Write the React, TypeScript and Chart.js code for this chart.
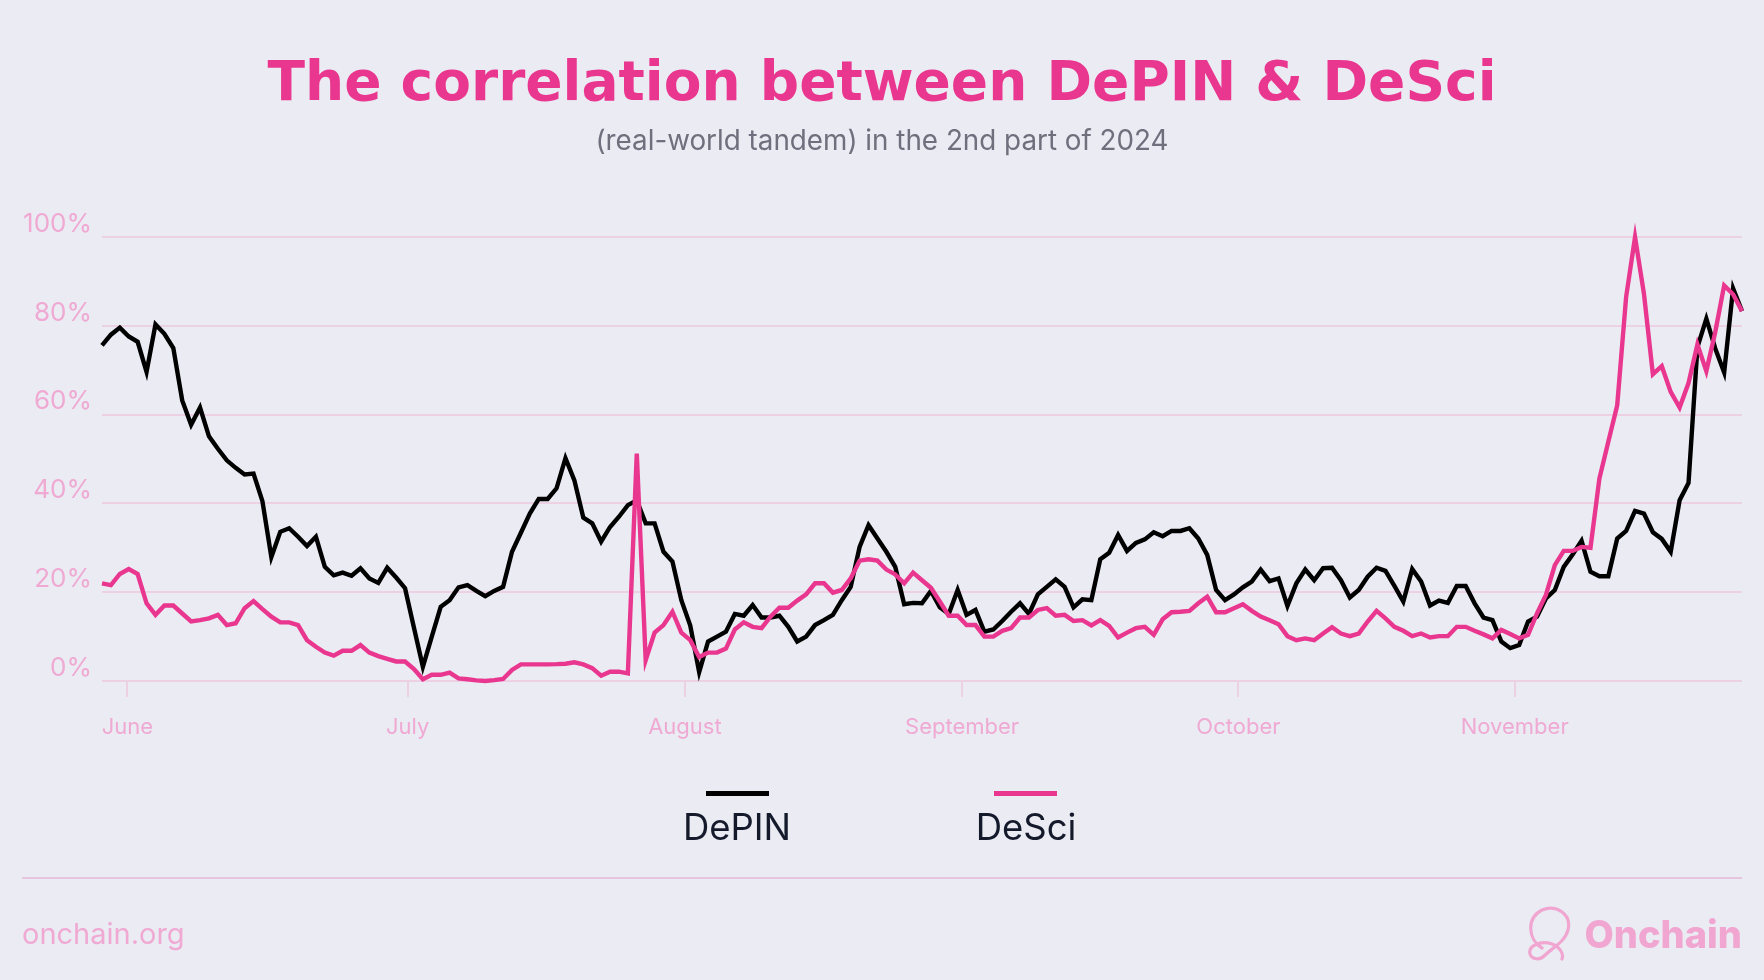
import React, { useEffect, useRef } from 'react';
import { Chart, registerables } from 'chart.js';

Chart.register(...registerables);

// DePIN correlation values (%), daily points from late May to late November 2024
const DEPIN = [
  75.6, 78.0, 79.6, 77.6, 76.4, 69.6, 80.3, 78.2, 75.0, 63.2,
  57.7, 61.6, 55.1, 52.3, 49.7, 48.0, 46.5, 46.7, 40.5, 27.9,
  33.6, 34.4, 32.5, 30.4, 32.5, 25.7, 23.8, 24.4, 23.7, 25.4,
  23.1, 22.1, 25.5, 23.3, 20.9, 12.0, 3.2, 10.0, 16.7, 18.2,
  21.1, 21.6, 20.3, 19.1, 20.3, 21.2, 29.1, 33.4, 37.7, 41.0,
  41.0, 43.4, 50.2, 45.2, 36.8, 35.5, 31.4, 34.7, 37.0, 39.6,
  40.7, 35.5, 35.5, 29.1, 26.9, 18.2, 12.5, 2.0, 8.9, 10.0,
  11.1, 15.1, 14.7, 17.1, 14.3, 14.3, 14.7, 12.2, 8.9, 10.0,
  12.6, 13.7, 14.9, 18.2, 21.2, 30.2, 35.1, 32.1, 29.1, 25.7,
  17.3, 17.6, 17.5, 20.3, 16.6, 15.1, 20.5, 14.9, 16.0, 11.1,
  11.6, 13.5, 15.6, 17.5, 15.1, 19.5, 21.2, 22.9, 21.2, 16.6,
  18.4, 18.2, 27.4, 28.9, 32.9, 29.3, 31.1, 31.9, 33.5, 32.6,
  33.8, 33.8, 34.4, 32.1, 28.4, 20.5, 18.2, 19.5, 21.1, 22.4,
  25.1, 22.5, 23.1, 16.9, 22.0, 25.1, 22.7, 25.4, 25.5, 22.7,
  18.8, 20.5, 23.5, 25.5, 24.8, 21.4, 17.9, 25.2, 22.4, 17.0,
  18.1, 17.6, 21.4, 21.4, 17.5, 14.3, 13.7, 8.9, 7.4, 8.1,
  13.4, 14.5, 18.6, 20.5, 25.7, 28.5, 31.6, 24.6, 23.6, 23.6,
  32.1, 33.8, 38.3, 37.7, 33.5, 32.0, 29.1, 40.7, 44.6, 75.2,
  81.6, 74.9, 69.5, 88.4, 83.3,
];

// DeSci correlation values (%)
const DESCI = [
  22.0, 21.6, 24.1, 25.2, 24.1, 17.5, 14.9, 17.0, 17.0, 15.2,
  13.4, 13.7, 14.1, 14.9, 12.6, 13.0, 16.4, 18.0, 16.2, 14.5,
  13.2, 13.2, 12.6, 9.2, 7.7, 6.4, 5.7, 6.8, 6.8, 8.1,
  6.4, 5.6, 5.0, 4.4, 4.4, 2.7, 0.4, 1.4, 1.4, 1.9,
  0.6, 0.4, 0.15, 0.0, 0.2, 0.45, 2.5, 3.75, 3.75, 3.75,
  3.75, 3.8, 3.9, 4.2, 3.75, 2.9, 1.2, 2.1, 2.1, 1.7,
  51.2, 4.7, 10.9, 12.6, 15.6, 10.9, 9.2, 5.4, 6.4, 6.4,
  7.3, 11.6, 13.2, 12.2, 11.9, 14.5, 16.5, 16.5, 18.1, 19.5,
  22.0, 22.0, 19.9, 20.5, 23.1, 27.1, 27.4, 27.1, 25.1, 24.0,
  22.0, 24.4, 22.7, 21.0, 17.9, 14.7, 14.7, 12.6, 12.6, 10.0,
  10.0, 11.3, 11.9, 14.3, 14.3, 16.0, 16.4, 14.7, 14.9, 13.5,
  13.7, 12.5, 13.7, 12.4, 9.8, 10.9, 11.9, 12.2, 10.4, 13.9,
  15.5, 15.6, 15.8, 17.5, 19.0, 15.5, 15.5, 16.4, 17.3, 15.8,
  14.5, 13.7, 12.8, 10.1, 9.2, 9.6, 9.2, 10.7, 12.1, 10.7,
  10.1, 10.7, 13.4, 15.8, 14.1, 12.2, 11.3, 10.1, 10.7, 9.8,
  10.1, 10.1, 12.2, 12.2, 11.3, 10.5, 9.6, 11.5, 10.6, 9.6,
  10.4, 15.2, 19.4, 26.1, 29.3, 29.3, 30.2, 30.0, 45.6, 53.9,
  62.1, 86.5, 100.0, 87.2, 69.1, 70.9, 65.1, 61.6, 67.1, 75.8,
  69.8, 78.6, 89.1, 87.1, 83.3,
];

// Month tick labels and where they sit along the point index axis
const MONTHS = ['June', 'July', 'August', 'September', 'October', 'November'];
const MONTH_POS = [2.85, 34.3, 65.4, 96.5, 127.5, 158.5];

const Y_MIN = 0;
const Y_MAX = 100;
const Y_STEP = 20;

const BG = '#ebebf3';
const PINK = '#e9368f';
const SOFT_PINK = '#efa9d3';
const GRID = '#ecd0e4';

export default function App() {
  const canvasRef = useRef<HTMLCanvasElement | null>(null);

  useEffect(() => {
    const canvas = canvasRef.current;
    if (!canvas) return;
    const chart = new Chart(canvas, {
      type: 'line',
      data: {
        datasets: [
          {
            label: 'DeSci',
            data: DESCI.map((y, i) => ({ x: i, y })),
            borderColor: PINK,
            backgroundColor: PINK,
            borderWidth: 4.4,
            pointRadius: 0,
            tension: 0,
            order: 0,
            clip: false as any,
          },
          {
            label: 'DePIN',
            data: DEPIN.map((y, i) => ({ x: i, y })),
            borderColor: '#000000',
            backgroundColor: '#000000',
            borderWidth: 4.4,
            pointRadius: 0,
            tension: 0,
            order: 1,
            clip: false as any,
          },
        ],
      },
      options: {
        animation: false,
        responsive: false,
        devicePixelRatio: 1,
        layout: { padding: { top: 237, right: 22, bottom: 0, left: 0 } },
        plugins: {
          legend: { display: false },
          tooltip: { enabled: false },
          title: { display: false },
        },
        scales: {
          x: {
            type: 'linear',
            min: 0,
            max: DEPIN.length - 1,
            afterBuildTicks: (scale: any) => {
              scale.ticks = MONTH_POS.map((v) => ({ value: v }));
            },
            afterFit: (scale: any) => {
              scale.height = 299;
            },
            grid: {
              display: true,
              drawOnChartArea: false,
              drawTicks: true,
              tickLength: 16,
              color: GRID,
              lineWidth: 2,
            },
            border: { display: false },
            ticks: {
              autoSkip: false,
              maxRotation: 0,
              padding: 17,
              color: SOFT_PINK,
              font: { family: 'Inter', size: 22 },
              callback: (value: any) => {
                const i = MONTH_POS.indexOf(Number(value));
                return i >= 0 ? MONTHS[i] : '';
              },
            },
          },
          y: {
            type: 'linear',
            min: Y_MIN,
            max: Y_MAX,
            afterFit: (scale: any) => {
              scale.width = 102;
            },
            grid: {
              color: GRID,
              lineWidth: 2,
              drawTicks: false,
            },
            border: { display: false },
            ticks: {
              stepSize: Y_STEP,
              padding: 10,
              labelOffset: -13,
              color: SOFT_PINK,
              font: { family: 'Inter', size: 26 },
              callback: (value: any) => `${value}%`,
            },
          },
        },
      },
    });
    return () => chart.destroy();
  }, []);

  const abs: React.CSSProperties = { position: 'absolute', lineHeight: 1, whiteSpace: 'nowrap' };

  return (
    <div
      style={{
        position: 'absolute',
        left: 0,
        top: 0,
        width: 1764,
        height: 980,
        background: BG,
        overflow: 'hidden',
        fontFamily: 'Inter, sans-serif',
      }}
    >
      <canvas
        ref={canvasRef}
        width={1764}
        height={980}
        style={{ position: 'absolute', left: 0, top: 0, width: 1764, height: 980 }}
      />
      <div
        style={{
          ...abs,
          left: 0,
          width: 1764,
          top: 53.5,
          textAlign: 'center',
          fontFamily: '"DejaVu Sans", sans-serif',
          fontWeight: 700,
          fontSize: 55,
          color: PINK,
        }}
      >
        The correlation between DePIN &amp; DeSci
      </div>
      <div
        style={{
          ...abs,
          left: 0,
          width: 1764,
          top: 126.5,
          textAlign: 'center',
          fontSize: 27.8,
          color: '#6f6f7d',
        }}
      >
        (real-world tandem) in the 2nd part of 2024
      </div>

      {/* legend */}
      <div style={{ position: 'absolute', left: 706, top: 791, width: 63, height: 5, background: '#000' }} />
      <div
        style={{ ...abs, left: 637, width: 200, top: 809, textAlign: 'center', fontSize: 36.5, color: '#141a2b' }}
      >
        DePIN
      </div>
      <div style={{ position: 'absolute', left: 994, top: 791, width: 63, height: 5, background: PINK }} />
      <div
        style={{ ...abs, left: 926, width: 200, top: 809, textAlign: 'center', fontSize: 36.5, color: '#141a2b' }}
      >
        DeSci
      </div>

      {/* separator */}
      <div style={{ position: 'absolute', left: 22, top: 877, width: 1720, height: 2, background: '#e6c4dd' }} />

      {/* footer */}
      <div style={{ ...abs, left: 22, top: 918.5, fontSize: 29, color: SOFT_PINK }}>onchain.org</div>
      <svg
        width={60}
        height={58}
        viewBox="0 0 60 58"
        style={{ position: 'absolute', left: 1518, top: 904 }}
      >
        <path
          d="M24 44 C10 36 8 14 24 6 C38 0 54 10 50 26 C47 38 34 44 26 52 C22 56 14 56 12 50 C10 42 22 36 34 40 C42 43 46 50 44 55"
          fill="none"
          stroke="#f0a6d0"
          strokeWidth={3.2}
          strokeLinecap="round"
        />
      </svg>
      <div
        style={{
          ...abs,
          right: 22,
          top: 915,
          fontSize: 38,
          fontWeight: 800,
          color: '#f0a6d0',
        }}
      >
        Onchain
      </div>
    </div>
  );
}
